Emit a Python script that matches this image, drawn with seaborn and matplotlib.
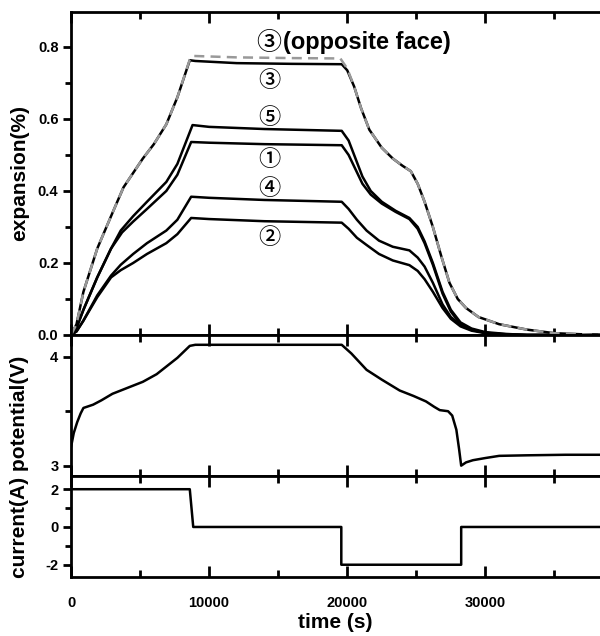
import numpy as np
import pandas as pd
import matplotlib
matplotlib.use("Agg")
import matplotlib.pyplot as plt
import seaborn as sns
from matplotlib.ticker import MultipleLocator

sns.set_style("white")
plt.rcParams['font.family'] = ['Liberation Sans', 'Noto Sans CJK JP', 'DejaVu Sans']
plt.rcParams.update({'text.color': 'black', 'axes.labelcolor': 'black',
                     'xtick.color': 'black', 'ytick.color': 'black',
                     'axes.edgecolor': 'black'})

# ---------------- data ----------------
t3 = [0, 400, 900, 1900, 2900, 3800, 4500, 5200, 6000, 6900, 7700, 8600, 9000, 12000, 16000, 19600,
      20000, 20500, 21000, 21600, 22500, 23300, 24000, 24600, 25100, 25600, 26200, 26800, 27400,
      28000, 28600, 29500, 31000, 33000, 35000, 38300]
e3 = [0, 0.03, 0.12, 0.24, 0.33, 0.41, 0.45, 0.49, 0.53, 0.585, 0.66, 0.763, 0.761, 0.755, 0.753, 0.752,
      0.735, 0.69, 0.63, 0.57, 0.52, 0.49, 0.47, 0.455, 0.42, 0.37, 0.30, 0.22, 0.145,
      0.10, 0.075, 0.05, 0.03, 0.015, 0.005, 0.0]

t3o = [0, 400, 900, 1900, 2900, 3800, 4500, 5200, 6000, 6900, 7700, 8600, 8800, 12000, 16000, 19500,
       20000, 20500, 21000, 21600, 22500, 23300, 24000, 24600, 25100, 25600, 26200, 26800, 27400,
       28000, 28600, 29500, 31000, 33000, 35000, 38300]
e3o = [0, 0.03, 0.12, 0.24, 0.33, 0.41, 0.45, 0.49, 0.53, 0.585, 0.66, 0.765, 0.775, 0.771, 0.769, 0.768,
       0.74, 0.69, 0.63, 0.57, 0.52, 0.49, 0.47, 0.455, 0.42, 0.37, 0.30, 0.22, 0.145,
       0.10, 0.075, 0.05, 0.03, 0.015, 0.005, 0.0]

t5 = [0, 400, 900, 1900, 2900, 3600, 4500, 5500, 6900, 7700, 8800, 10000, 14000, 19600,
      20100, 20600, 21100, 21700, 22500, 23500, 24500, 25100, 25600, 26200, 26900, 27500,
      28200, 29000, 30000, 31500, 33000, 38300]
e5 = [0, 0.02, 0.07, 0.16, 0.24, 0.29, 0.33, 0.37, 0.425, 0.475, 0.583, 0.578, 0.572, 0.567,
      0.54, 0.49, 0.44, 0.40, 0.37, 0.345, 0.325, 0.30, 0.26, 0.20, 0.12, 0.07,
      0.035, 0.018, 0.008, 0.003, 0.0, 0.0]

t1 = [0, 400, 900, 1900, 2900, 3700, 4500, 5500, 6900, 7700, 8700, 10000, 14000, 19600,
      20100, 20600, 21100, 21700, 22500, 23500, 24500, 25100, 25600, 26200, 26900, 27500,
      28200, 29000, 30000, 31500, 33000, 38300]
e1 = [0, 0.02, 0.07, 0.16, 0.24, 0.285, 0.315, 0.35, 0.40, 0.445, 0.536, 0.534, 0.53, 0.527,
      0.50, 0.46, 0.42, 0.39, 0.365, 0.342, 0.322, 0.295, 0.255, 0.195, 0.115, 0.065,
      0.03, 0.015, 0.006, 0.002, 0.0, 0.0]

t4 = [0, 400, 900, 1900, 2900, 3600, 4500, 5500, 6900, 7700, 8700, 10000, 14000, 19600,
      20100, 20700, 21400, 22300, 23300, 24500, 25100, 25600, 26200, 26900, 27500,
      28200, 29000, 30000, 31500, 33000, 38300]
e4 = [0, 0.01, 0.04, 0.11, 0.165, 0.195, 0.225, 0.255, 0.29, 0.32, 0.384, 0.381, 0.375, 0.37,
      0.35, 0.32, 0.29, 0.262, 0.245, 0.235, 0.215, 0.19, 0.145, 0.085, 0.05,
      0.028, 0.014, 0.006, 0.001, 0.0, 0.0]

t2 = [0, 400, 900, 1900, 2900, 3600, 4500, 5500, 6900, 7700, 8700, 10000, 14000, 19600,
      20100, 20700, 21400, 22300, 23300, 24500, 25100, 25600, 26200, 26900, 27500,
      28200, 29000, 30000, 31500, 33000, 38300]
e2 = [0, 0.01, 0.04, 0.105, 0.16, 0.18, 0.20, 0.225, 0.255, 0.28, 0.325, 0.322, 0.316, 0.312,
      0.295, 0.27, 0.25, 0.225, 0.207, 0.194, 0.178, 0.155, 0.12, 0.075, 0.045,
      0.024, 0.012, 0.005, 0.001, 0.0, 0.0]

t_pot = [0, 200, 450, 700, 900, 1600, 2200, 3000, 4000, 5200, 6200, 6900, 7700, 8600, 9000, 19600,
         20300, 21400, 22500, 23800, 24800, 25700, 26300, 26700, 27300, 27600, 27900, 28100, 28250,
         28600, 29100, 30000, 31000, 33000, 35800, 38300]
v_pot = [3.17, 3.30, 3.40, 3.48, 3.53, 3.56, 3.60, 3.66, 3.71, 3.77, 3.84, 3.91, 3.99, 4.10, 4.11, 4.11,
         4.03, 3.88, 3.79, 3.69, 3.64, 3.59, 3.54, 3.51, 3.50, 3.46, 3.33, 3.15, 3.00,
         3.03, 3.05, 3.07, 3.09, 3.095, 3.10, 3.10]

t_cur = [0, 8600, 8850, 19570, 19570, 28250, 28250, 38300]
i_cur = [2, 2, 0, 0, -2, -2, 0, 0]

labels = ["③", "⑤", "①", "④", "②"]
label_y = [0.708, 0.603, 0.486, 0.408, 0.272]
label_x = 14390

# ---------------- figure ----------------
fig = plt.figure(figsize=(6.0, 6.36), dpi=100)
gs = fig.add_gridspec(3, 1, height_ratios=[323, 141, 101], hspace=0,
                      left=71/600, right=1.0, top=1 - 12/636, bottom=1 - 577/636)
ax1 = fig.add_subplot(gs[0])
ax2 = fig.add_subplot(gs[1], sharex=ax1)
ax3 = fig.add_subplot(gs[2], sharex=ax1)

for tt, ee in [(t5, e5), (t1, e1), (t4, e4), (t2, e2), (t3, e3)]:
    sns.lineplot(x=tt, y=ee, ax=ax1, color="black", lw=1.8, estimator=None, sort=False)
sns.lineplot(x=t3o, y=e3o, ax=ax1, color="#999999", lw=1.8, estimator=None, sort=False,
             linestyle=(0, (4, 2.5)))

sns.lineplot(x=t_pot, y=v_pot, ax=ax2, color="black", lw=1.8, estimator=None, sort=False)
sns.lineplot(x=t_cur, y=i_cur, ax=ax3, color="black", lw=1.8, estimator=None, sort=False)

ax1.set_xlim(0, 38300)
ax1.set_ylim(0, 0.897)
ax2.set_ylim(2.905, 4.2)
ax3.set_ylim(-2.65, 2.7)

ax1.yaxis.set_major_locator(MultipleLocator(0.2))
ax1.yaxis.set_minor_locator(MultipleLocator(0.1))
ax2.yaxis.set_major_locator(MultipleLocator(1))
ax2.yaxis.set_minor_locator(MultipleLocator(0.5))
ax3.yaxis.set_major_locator(MultipleLocator(2))
ax3.yaxis.set_minor_locator(MultipleLocator(1))
ax1.xaxis.set_major_locator(MultipleLocator(10000))
ax1.xaxis.set_minor_locator(MultipleLocator(5000))

for ax in (ax1, ax2, ax3):
    for s in ("left", "top", "bottom"):
        ax.spines[s].set_linewidth(2)
        ax.spines[s].set_color("black")
    ax.spines["right"].set_visible(False)
    ax.tick_params(axis="x", which="both", direction="in", top=True, bottom=True, width=2, colors="black")
    ax.tick_params(axis="x", which="major", length=8)
    ax.tick_params(axis="x", which="minor", length=5)
    ax.tick_params(axis="y", which="both", direction="out", left=True, right=False, width=2, colors="black")
    ax.tick_params(axis="y", which="major", length=6, labelsize=10.5, pad=3)
    ax.tick_params(axis="y", which="minor", length=4)
    ax.set_xlabel("")
    ax.set_ylabel("")

ax1.set_yticks([0.0, 0.2, 0.4, 0.6, 0.8])
ax1.set_yticklabels(["0.0", "0.2", "0.4", "0.6", "0.8"], fontweight="bold", fontsize=10.5)
ax2.set_yticks([3, 4])
ax2.set_yticklabels(["3", "4"], fontweight="bold", fontsize=10.5)
ax3.set_yticks([-2, 0, 2])
ax3.set_yticklabels(["-2", "0", "2"], fontweight="bold", fontsize=10.5)

plt.setp(ax1.get_xticklabels(), visible=False)
plt.setp(ax2.get_xticklabels(), visible=False)
ax3.set_xticks([0, 10000, 20000, 30000])
ax3.set_xticklabels(["0", "10000", "20000", "30000"], fontweight="bold", fontsize=10.5)
ax3.tick_params(axis="x", which="major", pad=14)

ax3.set_xlabel("time (s)", fontsize=15, fontweight="bold", labelpad=2, color="black")
fig.text(20/600, 1 - 173/636, "expansion(%)", rotation=90, fontsize=15, fontweight="bold",
         ha="center", va="center", color="black")
fig.text(20/600, 1 - 467/636, "current(A) potential(V)", rotation=90, fontsize=15, fontweight="bold",
         ha="center", va="center", color="black")

for lab, yy in zip(labels, label_y):
    ax1.text(label_x, yy, lab, fontsize=16, fontweight="medium", ha="center", va="center",
             color="black", family=['Noto Sans CJK JP', 'DejaVu Sans'])
ax1.text(13400, 0.811, "③", fontsize=18, fontweight="medium", ha="left", va="center",
         color="black", family=['Noto Sans CJK JP', 'DejaVu Sans'])
ax1.text(15350, 0.811, "(opposite face)", fontsize=17, fontweight="bold", ha="left", va="center",
         color="black")

fig.savefig("out.png", dpi=100)
